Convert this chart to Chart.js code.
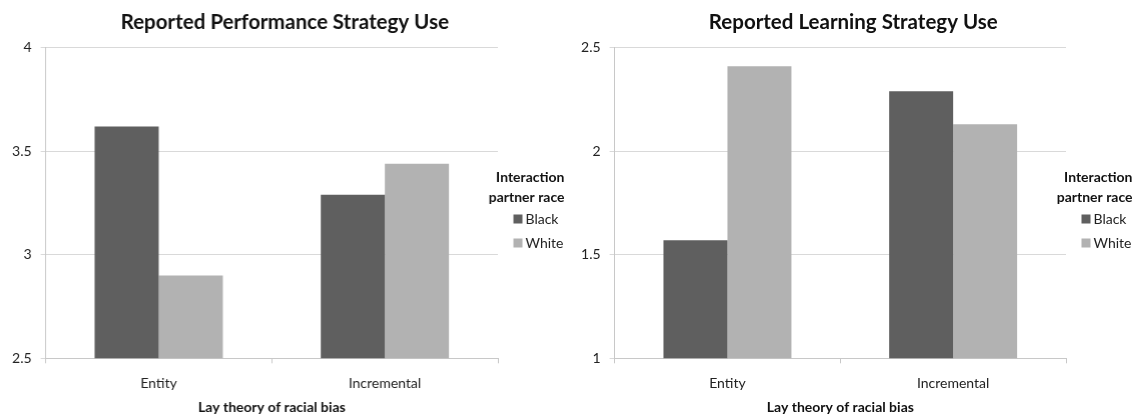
<!DOCTYPE html>
<html>
<head>
<meta charset="utf-8">
<script src="https://cdn.jsdelivr.net/npm/chart.js@4/dist/chart.umd.min.js"></script>
<style>
	html, body { margin: 0; padding: 0; background: #fff; }
	.wrap { display: flex; width: 1137px; height: 416px; }
	.box { position: relative; width: 568.5px; height: 416px; }
</style>
</head>
<body>
<div class="wrap">
	<div class="box"><canvas id="perf-chart"></canvas></div>
	<div class="box"><canvas id="learn-chart"></canvas></div>
</div>
<script>
var categories = ['Entity', 'Incremental'];
var seriesNames = ['Black', 'White'];
var seriesColors = ['#5f5f5f', '#b2b2b2'];

var perfBlack = [3.62, 3.29];
var perfWhite = [2.90, 3.44];
var perfTicks = [2.5, 3, 3.5, 4];

var learnBlack = [1.57, 2.29];
var learnWhite = [2.41, 2.13];
var learnTicks = [1, 1.5, 2, 2.5];

var legendTitle = ['Interaction', 'partner race'];
var xTitle = 'Lay theory of racial bias';

(function() {
	'use strict';

	var FONT = 'Lato, "Open Sans", sans-serif';

	// legend drawn by hand, two-line bold title like the original
	var sideLegend = {
		id: 'sideLegend',
		afterDraw: function(chart) {
			var ctx = chart.ctx;
			var right = chart.width - 5;
			var top = 177;
			ctx.save();
			ctx.fillStyle = '#111';
			ctx.textBaseline = 'middle';
			ctx.textAlign = 'right';
			ctx.font = 'bold 14px ' + FONT;
			legendTitle.forEach(function(line, i) {
				ctx.fillText(line, right, top + i * 20);
			});
			ctx.textAlign = 'left';
			ctx.font = '14px ' + FONT;
			chart.data.datasets.forEach(function(ds, i) {
				var y = top + 42 + i * 24;
				ctx.fillStyle = ds.backgroundColor;
				ctx.fillRect(right - 51, y - 4.5, 9, 9);
				ctx.fillStyle = '#222';
				ctx.fillText(ds.label, right - 39, y);
			});
			ctx.restore();
		}
	};

	function makeChart(id, title, black, white, ticks) {
		new Chart(document.getElementById(id), {
			type: 'bar',
			data: {
				labels: categories,
				datasets: [
					{ label: seriesNames[0], data: black, backgroundColor: seriesColors[0] },
					{ label: seriesNames[1], data: white, backgroundColor: seriesColors[1] }
				]
			},
			options: {
				responsive: true,
				maintainAspectRatio: false,
				animation: false,
				devicePixelRatio: 1,
				layout: { padding: 0 },
				datasets: {
					bar: { categoryPercentage: 0.567, barPercentage: 1.0 }
				},
				plugins: {
					legend: { display: false },
					tooltip: { enabled: false },
					title: {
						display: true,
						text: title,
						color: '#111',
						font: { family: FONT, size: 20.5, weight: 'bold' },
						padding: { top: 10.4, bottom: 12.7 }
					}
				},
				scales: {
					x: {
						grid: { drawOnChartArea: false, drawTicks: true, tickLength: 5, color: '#c8c8c8' },
						border: { color: '#c8c8c8' },
						ticks: { color: '#222', padding: 12, font: { family: FONT, size: 14 } },
						title: {
							display: true,
							text: xTitle,
							color: '#111',
							font: { family: FONT, size: 14, weight: 'bold' },
							padding: { top: -5.5, bottom: 0.6 }
						}
					},
					y: {
						min: ticks[0],
						max: ticks[ticks.length - 1],
						afterFit: function(scale) { scale.width = 45.6; },
						afterBuildTicks: function(scale) {
							scale.ticks = ticks.map(function(v) { return { value: v }; });
						},
						grid: { color: '#d9d9d9', tickLength: 5 },
						border: { color: '#c8c8c8' },
						ticks: {
							color: '#222',
							padding: 9,
							font: { family: FONT, size: 14 },
							callback: function(v) { return String(v); }
						}
					},
					// empty axis that only reserves room for the legend
					side: {
						type: 'linear',
						position: 'right',
						afterFit: function(scale) { scale.width = 71.5; },
						grid: { display: false },
						border: { display: false },
						ticks: { display: false }
					}
				}
			},
			plugins: [sideLegend]
		});
	}

	makeChart('perf-chart', 'Reported Performance Strategy Use', perfBlack, perfWhite, perfTicks);
	makeChart('learn-chart', 'Reported Learning Strategy Use', learnBlack, learnWhite, learnTicks);

})();
</script>
</body>
</html>
